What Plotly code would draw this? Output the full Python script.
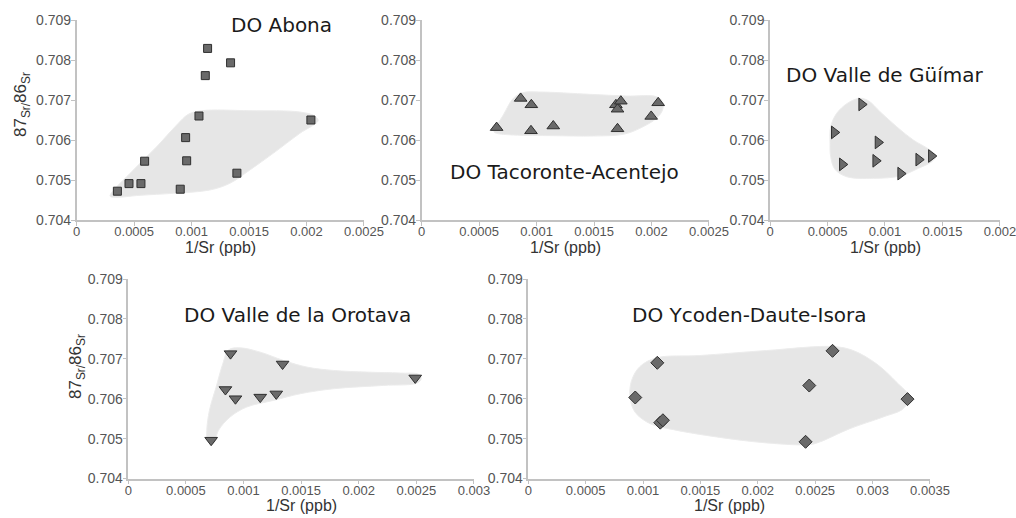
import plotly.graph_objects as go

# ---------------- data ----------------
panel_titles = ["DO Abona", "DO Tacoronte-Acentejo", "DO Valle de Güímar",
                "DO Valle de la Orotava", "DO Ycoden-Daute-Isora"]
x_title = "1/Sr (ppb)"
y_title = "87<sub>Sr/</sub>86<sub>Sr</sub>"

y_ticks = [0.704, 0.705, 0.706, 0.707, 0.708, 0.709]
y_ticktext = ["0.704", "0.705", "0.706", "0.707", "0.708", "0.709"]
x_ticks_25 = [0, 0.0005, 0.001, 0.0015, 0.002, 0.0025]
x_ticktext_25 = ["0", "0.0005", "0.001", "0.0015", "0.002", "0.0025"]
x_ticks_20 = [0, 0.0005, 0.001, 0.0015, 0.002]
x_ticktext_20 = ["0", "0.0005", "0.001", "0.0015", "0.002"]
x_ticks_30 = [0, 0.0005, 0.001, 0.0015, 0.002, 0.0025, 0.003]
x_ticktext_30 = ["0", "0.0005", "0.001", "0.0015", "0.002", "0.0025", "0.003"]
x_ticks_35 = [0, 0.0005, 0.001, 0.0015, 0.002, 0.0025, 0.003, 0.0035]
x_ticktext_35 = ["0", "0.0005", "0.001", "0.0015", "0.002", "0.0025", "0.003", "0.0035"]

# DO Abona
abona_x = [0.000354, 0.000455, 0.000559, 0.000591, 0.000901, 0.000948, 0.000957,
           0.001064, 0.001119, 0.001139, 0.001339, 0.001394, 0.002038]
abona_y = [0.70472, 0.70491, 0.70491, 0.70547, 0.70477, 0.70606, 0.70548,
           0.70660, 0.70761, 0.70829, 0.70793, 0.70517, 0.70650]
abona_hull_x = [0.000290, 0.000493, 0.000696, 0.000870, 0.000971, 0.001087, 0.001507,
                0.001942, 0.002072, 0.002101, 0.001942, 0.001710, 0.001507, 0.001333,
                0.001159, 0.000841, 0.000551, 0.000319, 0.000290]
abona_hull_y = [0.704600, 0.705250, 0.705833, 0.706375, 0.706642, 0.706733, 0.706733,
                0.706700, 0.706600, 0.706483, 0.706167, 0.705667, 0.705250, 0.704917,
                0.704750, 0.704667, 0.704617, 0.704567, 0.704600]

# DO Tacoronte-Acentejo
taco_x = [0.000652, 0.000861, 0.000954, 0.000951, 0.001145, 0.001690, 0.001704,
          0.001733, 0.001704, 0.001997, 0.002058]
taco_y = [0.70631, 0.70704, 0.70688, 0.70623, 0.70635, 0.70688, 0.70677,
          0.70697, 0.70628, 0.70659, 0.70693]
taco_hull_x = [0.000629, 0.000710, 0.000797, 0.000878, 0.001029, 0.001464, 0.001783,
               0.002043, 0.002096, 0.002096, 0.002043, 0.001899, 0.001754, 0.001493,
               0.001145, 0.000797, 0.000652, 0.000629]
taco_hull_y = [0.706208, 0.706625, 0.707042, 0.707183, 0.707200, 0.707142, 0.707100,
               0.707083, 0.706958, 0.706750, 0.706542, 0.706292, 0.706142, 0.706100,
               0.706108, 0.706125, 0.706167, 0.706208]

# DO Valle de Güímar
guimar_x = [0.000559, 0.000629, 0.000797, 0.000939, 0.000919, 0.001136, 0.001293, 0.001403]
guimar_y = [0.70619, 0.70539, 0.70689, 0.70594, 0.70548, 0.70516, 0.70551, 0.70560]
guimar_hull_x = [0.000522, 0.000528, 0.000580, 0.000681, 0.000783, 0.000855, 0.000957,
                 0.001101, 0.001246, 0.001391, 0.001443, 0.001406, 0.001290, 0.001130,
                 0.000899, 0.000667, 0.000565, 0.000528, 0.000522]
guimar_hull_y = [0.705917, 0.706333, 0.706667, 0.706933, 0.707042, 0.706983, 0.706708,
                 0.706333, 0.706000, 0.705750, 0.705600, 0.705458, 0.705292, 0.705100,
                 0.705042, 0.705083, 0.705267, 0.705583, 0.705917]

# DO Valle de la Orotava
orotava_x = [0.000719, 0.000843, 0.000887, 0.000930, 0.001145, 0.001284, 0.001339, 0.002490]
orotava_y = [0.70496, 0.70623, 0.70713, 0.70600, 0.70604, 0.70612, 0.70687, 0.70652]
orotava_hull_x = [0.000681, 0.000704, 0.000762, 0.000820, 0.000870, 0.000971, 0.001145,
                  0.001348, 0.001551, 0.001783, 0.002072, 0.002362, 0.002522, 0.002542,
                  0.002507, 0.002217, 0.001783, 0.001493, 0.001261, 0.001029, 0.000884,
                  0.000783, 0.000739, 0.000687, 0.000681]
orotava_hull_y = [0.705208, 0.705708, 0.706292, 0.706875, 0.707225, 0.707275, 0.707167,
                  0.706958, 0.706792, 0.706708, 0.706667, 0.706642, 0.706608, 0.706500,
                  0.706392, 0.706333, 0.706250, 0.706125, 0.705958, 0.705792, 0.705542,
                  0.705208, 0.704875, 0.704958, 0.705208]

# DO Ycoden-Daute-Isora
ycoden_x = [0.000932, 0.001124, 0.001150, 0.001173, 0.002416, 0.002448, 0.002651, 0.003304]
ycoden_y = [0.70603, 0.70690, 0.70540, 0.70546, 0.70492, 0.70633, 0.70720, 0.70599]
ycoden_hull_x = [0.000886, 0.000900, 0.000973, 0.001118, 0.001495, 0.002076, 0.002657,
                 0.002831, 0.003034, 0.003208, 0.003319, 0.003267, 0.003092, 0.002802,
                 0.002541, 0.002454, 0.002076, 0.001640, 0.001263, 0.001060, 0.000929,
                 0.000886]
ycoden_hull_y = [0.706042, 0.706458, 0.706808, 0.707025, 0.707083, 0.707208, 0.707308,
                 0.707208, 0.706875, 0.706417, 0.706042, 0.705750, 0.705542, 0.705250,
                 0.704917, 0.704850, 0.704892, 0.705042, 0.705225, 0.705375, 0.705667,
                 0.706042]

# ---------------- figure ----------------
W, H = 1016, 518
fig = go.Figure()

HULL_FILL = "#e6e6e6"
MK_FILL = "#6a6a6a"
MK_LINE = "#2f2f2f"

panels = [
    dict(x=abona_x, y=abona_y, hx=abona_hull_x, hy=abona_hull_y, sym="square", size=8,
         xr=[0, 0.0025], tv=x_ticks_25, tt=x_ticktext_25),
    dict(x=taco_x, y=taco_y, hx=taco_hull_x, hy=taco_hull_y, sym="triangle-up", size=11,
         xr=[0, 0.0025], tv=x_ticks_25, tt=x_ticktext_25),
    dict(x=guimar_x, y=guimar_y, hx=guimar_hull_x, hy=guimar_hull_y, sym="triangle-right", size=11,
         xr=[0, 0.002], tv=x_ticks_20, tt=x_ticktext_20),
    dict(x=orotava_x, y=orotava_y, hx=orotava_hull_x, hy=orotava_hull_y, sym="triangle-down", size=11,
         xr=[0, 0.003], tv=x_ticks_30, tt=x_ticktext_30),
    dict(x=ycoden_x, y=ycoden_y, hx=ycoden_hull_x, hy=ycoden_hull_y, sym="diamond", size=10,
         xr=[0, 0.0035], tv=x_ticks_35, tt=x_ticktext_35),
]

# pixel boxes (left, right, top, bottom)
boxes = [
    (76.7, 364, 20, 220),
    (421.7, 709, 20, 220),
    (770, 1000, 20, 220),
    (128.3, 474, 279, 478.5),
    (528.3, 930, 279, 478.5),
]

axis_common = dict(showline=True, linecolor="#c2c2c2", linewidth=1.5,
                   ticks="outside", ticklen=4, tickcolor="#c2c2c2", tickwidth=1,
                   showgrid=False, zeroline=False, fixedrange=True, automargin=False,
                   ticklabeloverflow="allow")

for i, (p, b) in enumerate(zip(panels, boxes)):
    n = i + 1
    xa = "x" if n == 1 else f"x{n}"
    ya = "y" if n == 1 else f"y{n}"
    fig.add_trace(go.Scatter(x=p["hx"], y=p["hy"], mode="lines", fill="toself",
                             fillcolor=HULL_FILL, line=dict(color="#ececec", width=1,
                             shape="spline", smoothing=1.0),
                             hoverinfo="skip", showlegend=False, xaxis=xa, yaxis=ya))
    fig.add_trace(go.Scatter(x=p["x"], y=p["y"], mode="markers",
                             marker=dict(symbol=p["sym"], size=p["size"], color=MK_FILL,
                                         line=dict(color=MK_LINE, width=1)),
                             showlegend=False, xaxis=xa, yaxis=ya))
    l, r, t, bt = b
    xkey = "xaxis" if n == 1 else f"xaxis{n}"
    ykey = "yaxis" if n == 1 else f"yaxis{n}"
    xr = [p["xr"][0], p["xr"][1] * 1.00005]
    fig.update_layout({
        xkey: dict(axis_common, domain=[l / W, r / W], range=xr, anchor=ya,
                   tickvals=p["tv"], ticktext=p["tt"], ticklabelstandoff=-5,
                   tickfont=dict(family="Liberation Sans", size=13, color="#555555")),
        ykey: dict(axis_common, domain=[1 - bt / H, 1 - t / H], range=[0.704, 0.709 + 0.0000005],
                   anchor=xa, tickvals=y_ticks, ticktext=y_ticktext, ticklabelstandoff=-3,
                   tickfont=dict(family="Liberation Sans", size=14, color="#555555")),
    })

annotations = []
title_pos = [(281, 25), (564, 172), (884, 75), (297, 315), (749, 315)]
for txt, (px, py) in zip(panel_titles, title_pos):
    annotations.append(dict(text=txt, x=px / W, y=1 - py / H, xref="paper", yref="paper",
                            xanchor="center", yanchor="middle", showarrow=False,
                            font=dict(family="DejaVu Sans", size=20, color="#1a1a1a")))
# x-axis titles
for (l, r, t, bt) in boxes:
    annotations.append(dict(text=x_title, x=(l + r) / 2 / W, y=1 - (bt + 27) / H,
                            xref="paper", yref="paper", xanchor="center", yanchor="middle",
                            showarrow=False,
                            font=dict(family="Liberation Sans", size=16, color="#333333")))
# y-axis titles
for (px, py) in [(22, 105), (77, 367)]:
    annotations.append(dict(text=y_title, x=px / W, y=1 - py / H, xref="paper", yref="paper",
                            xanchor="center", yanchor="middle", showarrow=False, textangle=-90,
                            font=dict(family="Liberation Sans", size=17, color="#333333")))

fig.update_layout(width=W, height=H, margin=dict(l=0, r=0, t=0, b=0),
                  paper_bgcolor="white", plot_bgcolor="white",
                  annotations=annotations, showlegend=False)

fig.write_html("out.html", config={"displayModeBar": False},
               post_script="document.body.style.margin='0';")
